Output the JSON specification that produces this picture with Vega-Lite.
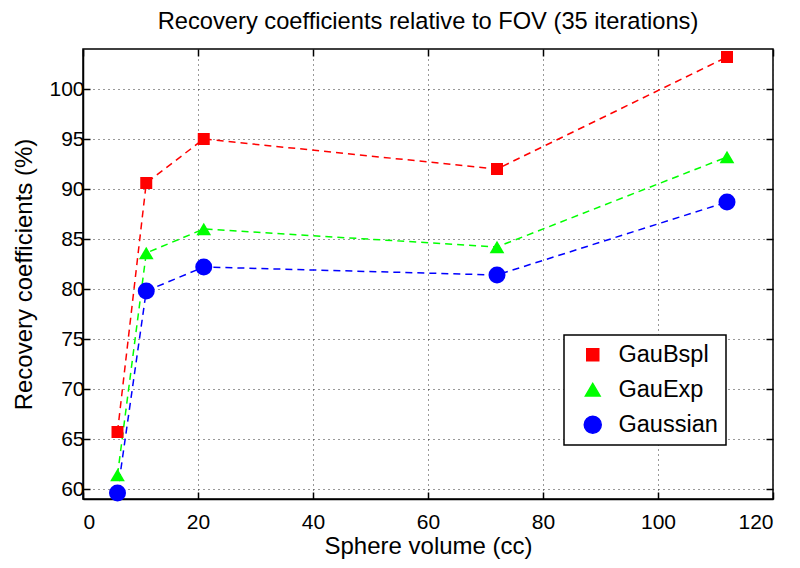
{
  "$schema": "https://vega.github.io/schema/vega-lite/v6.json",
  "width": 690,
  "height": 450,
  "autosize": "none",
  "padding": {"left": 83, "top": 49, "right": 27, "bottom": 69},
  "background": "white",
  "title": {
    "text": "Recovery coefficients relative to FOV (35 iterations)",
    "font": "Liberation Sans",
    "fontSize": 23.7,
    "fontWeight": "normal",
    "color": "black",
    "baseline": "alphabetic",
    "offset": 21,
    "dy": 25
  },
  "data": {
    "values": [
      {"series": "GauBspl", "volume": 6, "rc": 65.7},
      {"series": "GauBspl", "volume": 11, "rc": 90.6},
      {"series": "GauBspl", "volume": 21, "rc": 95.0},
      {"series": "GauBspl", "volume": 72, "rc": 92.0},
      {"series": "GauBspl", "volume": 112, "rc": 103.2},
      {"series": "GauExp", "volume": 6, "rc": 61.4},
      {"series": "GauExp", "volume": 11, "rc": 83.6},
      {"series": "GauExp", "volume": 21, "rc": 86.0},
      {"series": "GauExp", "volume": 72, "rc": 84.2},
      {"series": "GauExp", "volume": 112, "rc": 93.2},
      {"series": "Gaussian", "volume": 6, "rc": 59.6},
      {"series": "Gaussian", "volume": 11, "rc": 79.8},
      {"series": "Gaussian", "volume": 21, "rc": 82.2},
      {"series": "Gaussian", "volume": 72, "rc": 81.4},
      {"series": "Gaussian", "volume": 112, "rc": 88.7}
    ]
  },
  "layer": [
    {
      "mark": {"type": "line", "strokeDash": [7, 5], "strokeWidth": 1.5},
      "encoding": {
        "x": {
          "field": "volume", "type": "quantitative",
          "scale": {"domain": [0, 120], "nice": false},
          "axis": {"orient": "top", "labels": false, "grid": false, "title": null, "values": [0, 20, 40, 60, 80, 100, 120], "tickSize": -7, "domain": false, "minExtent": 0, "maxExtent": 0}
        },
        "y": {
          "field": "rc", "type": "quantitative",
          "scale": {"domain": [59, 104], "nice": false, "zero": false},
          "axis": {"orient": "right", "labels": false, "grid": false, "title": null, "values": [60, 65, 70, 75, 80, 85, 90, 95, 100], "tickSize": -7, "domain": false, "minExtent": 0, "maxExtent": 0}
        },
        "color": {
          "field": "series", "type": "nominal",
          "scale": {"domain": ["GauBspl", "GauExp", "Gaussian"], "range": ["#ff0000", "#00ff00", "#0000ff"]}
        }
      }
    },
    {
      "mark": {"type": "point", "filled": true, "opacity": 1},
      "encoding": {
        "x": {
          "field": "volume", "type": "quantitative",
          "axis": {"orient": "bottom", "title": "Sphere volume (cc)", "values": [0, 20, 40, 60, 80, 100, 120], "tickSize": -7, "grid": true, "labelPadding": 19, "titlePadding": 2}
        },
        "y": {
          "field": "rc", "type": "quantitative",
          "axis": {"orient": "left", "title": "Recovery coefficients (%)", "values": [60, 65, 70, 75, 80, 85, 90, 95, 100], "tickSize": -7, "grid": true, "titlePadding": 12}
        },
        "color": {
          "field": "series", "type": "nominal"
        },
        "shape": {
          "field": "series", "type": "nominal",
          "scale": {"domain": ["GauBspl", "GauExp", "Gaussian"], "range": ["square", "triangle-up", "circle"]}
        },
        "size": {
          "field": "series", "type": "nominal",
          "scale": {"domain": ["GauBspl", "GauExp", "Gaussian"], "range": [144, 289, 196]}
        }
      }
    }
  ],
  "resolve": {"axis": {"x": "independent", "y": "independent"}},
  "config": {
    "view": {"stroke": "black", "strokeWidth": 1.5},
    "legend": {
      "title": null,
      "orient": "none",
      "legendX": 481,
      "legendY": 286,
      "fillColor": "white",
      "strokeColor": "black",
      "strokeWidth": 1.5,
      "padding": 8,
      "symbolOffset": 9,
      "labelOffset": 14,
      "rowPadding": 10,
      "labelFont": "Liberation Sans",
      "labelFontSize": 23.5,
      "labelColor": "black"
    },
    "axis": {
      "domainColor": "black",
      "domainWidth": 1.5,
      "tickColor": "black",
      "tickWidth": 1.5,
      "labelFont": "Liberation Sans",
      "labelFontSize": 21,
      "labelColor": "black",
      "labelPadding": 6,
      "titleFont": "Liberation Sans",
      "titleFontSize": 24,
      "titleFontWeight": "normal",
      "titleColor": "black",
      "gridColor": "#333333",
      "gridDash": [1, 4],
      "gridWidth": 1,
      "gridOpacity": 1
    }
  }
}
